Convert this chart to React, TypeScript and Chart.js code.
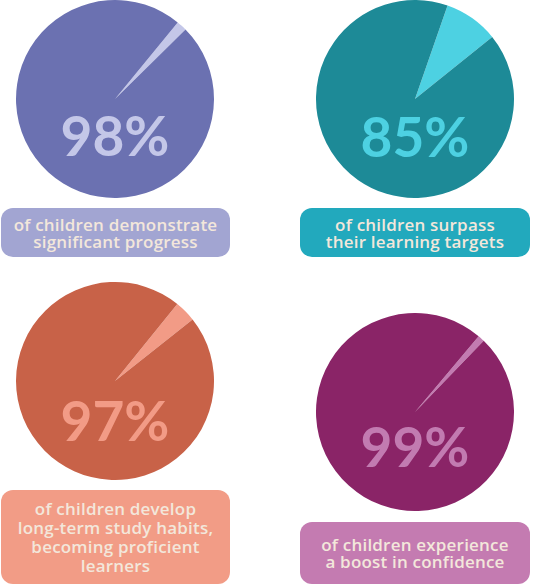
import React, { useEffect, useRef } from "react";
import { Chart, registerables } from "chart.js";

Chart.register(...registerables);

// ---- data ----
const percentLabels = ["98%", "85%", "97%", "99%"];
const captions: string[][] = [
  ["of children demonstrate", "significant progress"],
  ["of children surpass", "their learning targets"],
  ["of children develop", "long-term study habits,", "becoming proficient", "learners"],
  ["of children experience", "a boost in confidence"],
];
// slice shares as drawn in the picture (large slice / small highlighted wedge)
const mainShares = [98.3, 91.1, 96.5, 98.9];
const wedgeShares = [1.7, 8.9, 3.5, 1.1];

// ---- styles ----
const mainColors = ["#6B71B1", "#1D8A97", "#C86248", "#8A2467"];
const wedgeColors = ["#C4C7E8", "#4DD1E2", "#F29B86", "#C27BB1"];
const boxColors = ["#A2A5D2", "#22A9BD", "#F29C86", "#C47BB1"];
const captionColor = "#F3E7DB";

type PanelLayout = {
  cx: number; cy: number; r: number; rotation: number;
  textCy: number;
  box: { x: number; y: number; w: number; h: number };
  lineHeight: number;
};

const layouts: PanelLayout[] = [
  { cx: 115, cy: 99, r: 99, rotation: 39.3, textCy: 137, box: { x: 1, y: 208, w: 229, h: 49 }, lineHeight: 17 },
  { cx: 415, cy: 99, r: 99, rotation: 19.2, textCy: 138, box: { x: 300, y: 208, w: 230, h: 49 }, lineHeight: 17 },
  { cx: 115, cy: 381, r: 99, rotation: 39, textCy: 421.5, box: { x: 1, y: 490, w: 229, h: 94 }, lineHeight: 19 },
  { cx: 415, cy: 412, r: 99, rotation: 40, textCy: 447.5, box: { x: 300, y: 522, w: 230, h: 62 }, lineHeight: 17 },
];

const PCT_FONT = "Lato, 'Open Sans', sans-serif";
const CAP_FONT = "'Open Sans', Lato, sans-serif";

function PiePanel({ idx }: { idx: number }) {
  const ref = useRef<HTMLCanvasElement | null>(null);
  const L = layouts[idx];
  useEffect(() => {
    if (!ref.current) return;
    const chart = new Chart(ref.current, {
      type: "pie",
      data: {
        labels: ["wedge", "main"],
        datasets: [
          {
            data: [wedgeShares[idx], mainShares[idx]],
            backgroundColor: [wedgeColors[idx], mainColors[idx]],
            borderWidth: 0,
          },
        ],
      },
      options: {
        responsive: false,
        animation: false,
        rotation: L.rotation,
        layout: { padding: 0 },
        plugins: { legend: { display: false }, tooltip: { enabled: false } },
      },
    });
    return () => chart.destroy();
  }, [idx]);

  const size = L.r * 2;
  const fontSize = 55;
  return (
    <>
      <div style={{ position: "absolute", left: L.cx - L.r, top: L.cy - L.r, width: size, height: size }}>
        <canvas ref={ref} width={size} height={size} style={{ width: size, height: size, display: "block" }} />
      </div>
      <div
        style={{
          position: "absolute",
          left: L.cx - 100,
          width: 200,
          top: L.textCy - 29,
          height: fontSize,
          lineHeight: fontSize + "px",
          fontSize,
          fontWeight: 700,
          fontFamily: PCT_FONT,
          color: wedgeColors[idx],
          textAlign: "center",
          pointerEvents: "none",
        }}
      >
        {percentLabels[idx]}
      </div>
      <div
        style={{
          position: "absolute",
          left: L.box.x,
          top: L.box.y,
          width: L.box.w,
          height: L.box.h,
          background: boxColors[idx],
          borderRadius: 12,
          display: "flex",
          flexDirection: "column",
          justifyContent: "center",
          alignItems: "center",
          color: captionColor,
          fontFamily: CAP_FONT,
          fontSize: 17,
          fontWeight: 600,
          letterSpacing: 0.2,
          lineHeight: L.lineHeight + "px",
          textAlign: "center",
          whiteSpace: "nowrap",
        }}
      >
        {captions[idx].map((line, i) => (
          <div key={i}>{line}</div>
        ))}
      </div>
    </>
  );
}

export default function App() {
  return (
    <div style={{ position: "absolute", left: 0, top: 0, width: 547, height: 585, background: "#FFFFFF", overflow: "hidden" }}>
      {layouts.map((_, i) => (
        <PiePanel key={i} idx={i} />
      ))}
    </div>
  );
}
